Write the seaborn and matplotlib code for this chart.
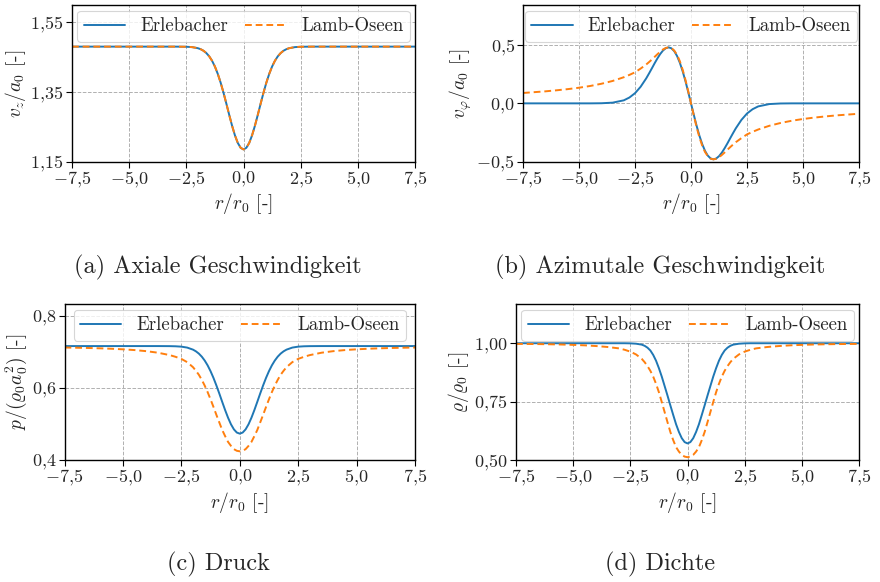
import matplotlib
matplotlib.use("Agg")
import matplotlib.pyplot as plt
import seaborn as sns
import pandas as pd

# ---------------- data ----------------
r = [-7.5, -7.0, -6.5, -6.0, -5.5, -5.0, -4.5, -4.0, -3.5, -3.0, -2.75, -2.5, -2.25,
     -2.0, -1.875, -1.75, -1.625, -1.5, -1.375, -1.25, -1.125, -1.0, -0.875, -0.75,
     -0.625, -0.5, -0.375, -0.25, -0.125, 0.0,
     0.125, 0.25, 0.375, 0.5, 0.625, 0.75, 0.875, 1.0, 1.125, 1.25, 1.375, 1.5, 1.625,
     1.75, 1.875, 2.0, 2.25, 2.5, 2.75, 3.0, 3.5, 4.0, 4.5, 5.0, 5.5, 6.0, 6.5, 7.0, 7.5]

vz_erlebacher = [1.479, 1.479, 1.479, 1.479, 1.479, 1.479, 1.479, 1.479, 1.479, 1.479,
                 1.4788, 1.4786, 1.4776, 1.4746, 1.4717, 1.4672, 1.4606, 1.4513, 1.4386,
                 1.4220, 1.4011, 1.3761, 1.3474, 1.3161, 1.2839, 1.2529, 1.2254, 1.2037,
                 1.1898, 1.185,
                 1.1898, 1.2037, 1.2254, 1.2529, 1.2839, 1.3161, 1.3474, 1.3761, 1.4011,
                 1.4220, 1.4386, 1.4513, 1.4606, 1.4672, 1.4717, 1.4746, 1.4776, 1.4786,
                 1.4788, 1.479, 1.479, 1.479, 1.479, 1.479, 1.479, 1.479, 1.479, 1.479, 1.479]
vz_lamb = [1.479, 1.479, 1.479, 1.479, 1.479, 1.479, 1.479, 1.479, 1.479, 1.479,
           1.4788, 1.4786, 1.4776, 1.4746, 1.4717, 1.4672, 1.4606, 1.4513, 1.4386,
           1.4220, 1.4011, 1.3761, 1.3474, 1.3161, 1.2839, 1.2529, 1.2254, 1.2037,
           1.1898, 1.185,
           1.1898, 1.2037, 1.2254, 1.2529, 1.2839, 1.3161, 1.3474, 1.3761, 1.4011,
           1.4220, 1.4386, 1.4513, 1.4606, 1.4672, 1.4717, 1.4746, 1.4776, 1.4786,
           1.4788, 1.479, 1.479, 1.479, 1.479, 1.479, 1.479, 1.479, 1.479, 1.479, 1.479]

vphi_erlebacher = [0.0, 0.0, 0.0, 0.0, 0.0, 0.0, 0.0, 0.001, 0.006, 0.026, 0.050, 0.087,
                   0.142, 0.214, 0.2557, 0.299, 0.3433, 0.385, 0.4227, 0.453, 0.4726,
                   0.480, 0.472, 0.448, 0.4067, 0.349, 0.2765, 0.192, 0.0981, 0.0,
                   -0.0981, -0.192, -0.2765, -0.349, -0.4067, -0.448, -0.472, -0.480,
                   -0.4726, -0.453, -0.4227, -0.385, -0.3433, -0.299, -0.2557, -0.214,
                   -0.142, -0.087, -0.050, -0.026, -0.006, -0.001, 0.0, 0.0, 0.0, 0.0,
                   0.0, 0.0, 0.0]
vphi_lamb = [0.089, 0.096, 0.103, 0.112, 0.122, 0.134, 0.149, 0.168, 0.192, 0.224, 0.244,
             0.266, 0.298, 0.333, 0.3535, 0.375, 0.398, 0.421, 0.4427, 0.462, 0.4749,
             0.480, 0.4738, 0.453, 0.4164, 0.362, 0.2899, 0.203, 0.1044, 0.0,
             -0.1044, -0.203, -0.2899, -0.362, -0.4164, -0.453, -0.4738, -0.480, -0.4749,
             -0.462, -0.4427, -0.421, -0.398, -0.375, -0.3535, -0.333, -0.298, -0.266,
             -0.244, -0.224, -0.192, -0.168, -0.149, -0.134, -0.122, -0.112, -0.103,
             -0.096, -0.089]

p_erlebacher = [0.7155, 0.7155, 0.7155, 0.7155, 0.7155, 0.7155, 0.7155, 0.7155, 0.7155,
                0.7153, 0.7149, 0.7139, 0.7113, 0.7056, 0.7009, 0.6946, 0.6862, 0.6754,
                0.6621, 0.6460, 0.6274, 0.6065, 0.5841, 0.5609, 0.5381, 0.5170, 0.4988,
                0.4848, 0.4760, 0.473,
                0.4760, 0.4848, 0.4988, 0.5170, 0.5381, 0.5609, 0.5841, 0.6065, 0.6274,
                0.6460, 0.6621, 0.6754, 0.6862, 0.6946, 0.7009, 0.7056, 0.7113, 0.7139,
                0.7149, 0.7153, 0.7155, 0.7155, 0.7155, 0.7155, 0.7155, 0.7155, 0.7155,
                0.7155, 0.7155]
p_lamb = [0.7115, 0.7109, 0.7102, 0.7093, 0.7081, 0.7065, 0.7044, 0.7014, 0.6971, 0.6905,
          0.6858, 0.680, 0.671, 0.657, 0.647, 0.636, 0.622, 0.606, 0.588, 0.568, 0.547,
          0.525, 0.504, 0.483, 0.466, 0.450, 0.439, 0.430, 0.4255, 0.424,
          0.4255, 0.430, 0.439, 0.450, 0.466, 0.483, 0.504, 0.525, 0.547, 0.568, 0.588,
          0.606, 0.622, 0.636, 0.647, 0.657, 0.671, 0.680, 0.6858, 0.6905, 0.6971,
          0.7014, 0.7044, 0.7065, 0.7081, 0.7093, 0.7102, 0.7109, 0.7115]

rho_erlebacher = [1.0, 1.0, 1.0, 1.0, 1.0, 1.0, 1.0, 1.0, 1.0, 1.0, 1.0, 0.9995, 0.998,
                  0.994, 0.989, 0.981, 0.969, 0.950, 0.925, 0.893, 0.857, 0.8166, 0.776,
                  0.734, 0.693, 0.6531, 0.620, 0.5933, 0.5766, 0.571,
                  0.5766, 0.5933, 0.620, 0.6531, 0.693, 0.734, 0.776, 0.8166, 0.857,
                  0.893, 0.925, 0.950, 0.969, 0.981, 0.989, 0.994, 0.998, 0.9995, 1.0,
                  1.0, 1.0, 1.0, 1.0, 1.0, 1.0, 1.0, 1.0, 1.0, 1.0]
rho_lamb = [0.9972, 0.9968, 0.9963, 0.9955, 0.9945, 0.993, 0.991, 0.988, 0.984, 0.978,
            0.972, 0.964, 0.952, 0.933, 0.919, 0.902, 0.882, 0.857, 0.826, 0.790, 0.748,
            0.705, 0.662, 0.620, 0.585, 0.555, 0.536, 0.522, 0.5145, 0.512,
            0.5145, 0.522, 0.536, 0.555, 0.585, 0.620, 0.662, 0.705, 0.748, 0.790, 0.826,
            0.857, 0.882, 0.902, 0.919, 0.933, 0.952, 0.964, 0.972, 0.978, 0.984, 0.988,
            0.991, 0.993, 0.9945, 0.9955, 0.9963, 0.9968, 0.9972]

series_names = ["Erlebacher", "Lamb-Oseen"]
x_ticks = [-7.5, -5.0, -2.5, 0.0, 2.5, 5.0, 7.5]
x_ticklabels = ["$-7{,}5$", "$-5{,}0$", "$-2{,}5$", "$0{,}0$", "$2{,}5$", "$5{,}0$", "$7{,}5$"]

panels = [
    dict(e=vz_erlebacher, l=vz_lamb, ylabel=r"$v_z/a_0$ [-]",
         yticks=[1.15, 1.35, 1.55], yticklabels=["$1{,}15$", "$1{,}35$", "$1{,}55$"],
         ylim=(1.15, 1.598), caption="(a) Axiale Geschwindigkeit"),
    dict(e=vphi_erlebacher, l=vphi_lamb, ylabel=r"$v_\varphi/a_0$ [-]",
         yticks=[-0.5, 0.0, 0.5], yticklabels=["$-0{,}5$", "$0{,}0$", "$0{,}5$"],
         ylim=(-0.5, 0.843), caption="(b) Azimutale Geschwindigkeit"),
    dict(e=p_erlebacher, l=p_lamb, ylabel=r"$p/(\varrho_0 a_0^2)$ [-]",
         yticks=[0.4, 0.6, 0.8], yticklabels=["$0{,}4$", "$0{,}6$", "$0{,}8$"],
         ylim=(0.4, 0.832), caption="(c) Druck"),
    dict(e=rho_erlebacher, l=rho_lamb, ylabel=r"$\varrho/\varrho_0$ [-]",
         yticks=[0.5, 0.75, 1.0], yticklabels=["$0{,}50$", "$0{,}75$", "$1{,}00$"],
         ylim=(0.5, 1.168), caption="(d) Dichte"),
]

# ---------------- style ----------------
sns.set_theme(style="white")
plt.rcParams["font.family"] = ["cmr10", "DejaVu Serif"]
plt.rcParams["mathtext.fontset"] = "cm"
plt.rcParams["axes.unicode_minus"] = False
plt.rcParams["axes.formatter.use_mathtext"] = True

W, H = 880, 582
fig = plt.figure(figsize=(W / 100, H / 100), dpi=100)

# axes boxes in pixel coords: (left, top, right, bottom)
boxes = [(72, 5, 415, 161.7), (523, 5, 859, 161.7),
         (64.5, 304, 415, 460), (516, 304, 859, 460)]
caption_pos = [(218, 267), (660, 267), (218, 564), (660, 564)]

blue = "#1f77b4"
orange = "#ff7f0e"
FS = 13

for pan, (l, t, rr, b), (cx, cy) in zip(panels, boxes, caption_pos):
    ax = fig.add_axes([l / W, 1 - b / H, (rr - l) / W, (b - t) / H])
    df = pd.DataFrame({"r": r, "e": pan["e"], "l": pan["l"]})
    sns.lineplot(data=df, x="r", y="e", ax=ax, color=blue, lw=1.4,
                 label=series_names[0], sort=False, estimator=None)
    sns.lineplot(data=df, x="r", y="l", ax=ax, color=orange, lw=1.4,
                 linestyle=(0, (3.5, 2)), label=series_names[1], sort=False, estimator=None)
    ax.set_xlim(-7.5, 7.5)
    ax.set_ylim(*pan["ylim"])
    ax.set_xticks(x_ticks)
    ax.set_xticklabels(x_ticklabels, fontsize=FS)
    ax.set_yticks(pan["yticks"])
    ax.set_yticklabels(pan["yticklabels"], fontsize=FS)
    ax.set_xlabel(r"$r/r_0$ [-]", fontsize=FS + 1, labelpad=1)
    ax.set_ylabel(pan["ylabel"], fontsize=FS + 1, labelpad=2)
    ax.grid(True, color="#b0b0b0", linestyle="--", linewidth=0.7)
    ax.tick_params(axis="both", direction="out", length=4, width=0.8, color="black",
                   bottom=True, left=True, pad=2)
    for s in ax.spines.values():
        s.set_color("black")
        s.set_linewidth(1.0)
    leg = ax.legend(loc="upper center", ncol=2, fontsize=13.5, frameon=True,
                    fancybox=True, framealpha=0.8, edgecolor="#cccccc",
                    handlelength=2.2, handletextpad=0.8, columnspacing=0.9,
                    borderaxespad=0.3, borderpad=0.35)
    leg.get_frame().set_linewidth(0.8)
    fig.text(cx / W, 1 - cy / H, pan["caption"], ha="center", va="center", fontsize=17.5)

fig.savefig("out.png", dpi=100)
